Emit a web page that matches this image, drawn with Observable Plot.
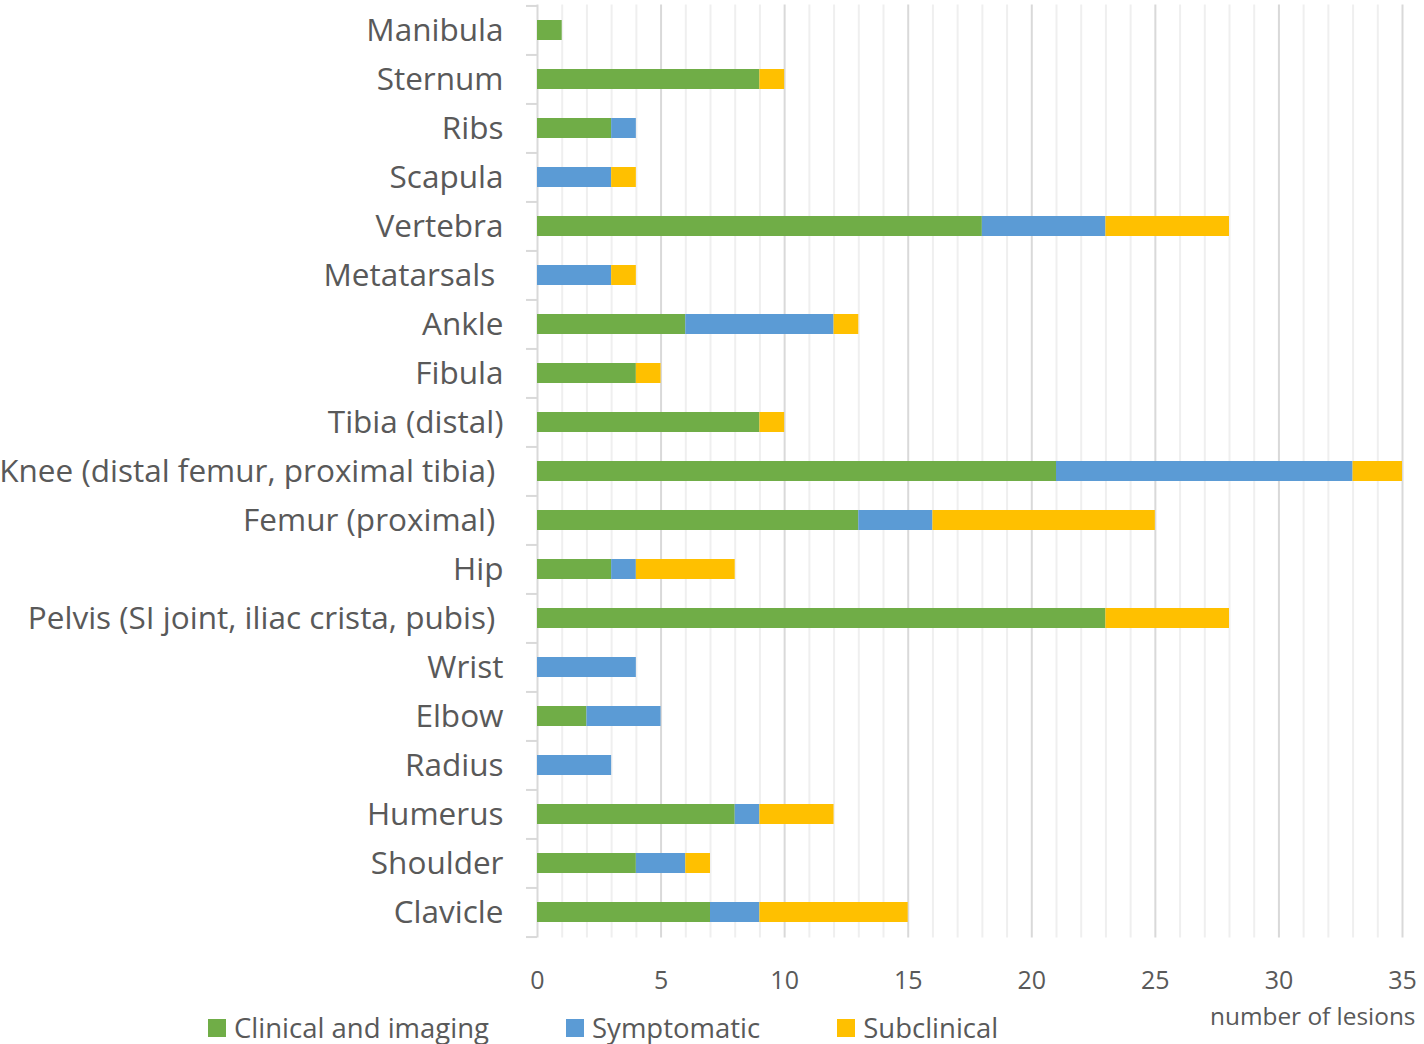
<!DOCTYPE html>
<html><head><meta charset="utf-8">
<script src="https://cdn.jsdelivr.net/npm/d3@7"></script>
<script src="https://cdn.jsdelivr.net/npm/@observablehq/plot@0.6"></script>
<style>
body{margin:0;background:#fff;}
#wrap{position:relative;width:1424px;height:1044px;font-family:"Open Sans", sans-serif;color:#595959;}
#chart svg{display:block;}
#legend{position:absolute;top:1013px;left:208px;display:flex;gap:77px;align-items:center;font-size:27.5px;line-height:30px;height:30px;}
#legend .item{display:flex;align-items:center;gap:8px;}
#legend .sw{width:18px;height:18px;display:inline-block;}
</style></head><body>
<div id="wrap"><div id="chart"></div><div id="legend"></div></div>
<script>
const categories = ["Manibula","Sternum","Ribs","Scapula","Vertebra","Metatarsals\u00a0","Ankle","Fibula","Tibia (distal)","Knee (distal femur, proximal tibia)\u00a0","Femur (proximal)\u00a0","Hip","Pelvis (SI joint, iliac crista, pubis)\u00a0","Wrist","Elbow","Radius","Humerus","Shoulder","Clavicle"];
const clinical    = [1,9,3,0,18,0,6,4,9,21,13,3,23,0,2,0,8,4,7];
const symptomatic = [0,0,1,3,5,3,6,0,0,12,3,1,0,4,3,3,1,2,2];
const subclinical = [0,1,0,1,5,1,1,1,1,2,9,4,5,0,0,0,3,1,6];
const seriesNames = ["Clinical and imaging","Symptomatic","Subclinical"];
const seriesColors = ["#70AD47","#5B9BD5","#FFC000"];
const majorTicks = [0,5,10,15,20,25,30,35];
const minorTicks = [1,2,3,4,6,7,8,9,11,12,13,14,16,17,18,19,21,22,23,24,26,27,28,29,31,32,33,34];
const axisTitle = "number of lesions";

const seriesValues = [clinical, symptomatic, subclinical];
const rows = [];
categories.forEach((c, i) => {
  seriesNames.forEach((s, j) => rows.push({category: c, series: s, value: seriesValues[j][i]}));
});

const W = 1424, H = 1044, mTop = 4.5, mBottom = 106.5;
const step = (H - mTop - mBottom) / categories.length;

const chart = Plot.plot({
  width: W, height: H,
  marginLeft: 537, marginRight: 22, marginTop: mTop, marginBottom: mBottom,
  style: {fontFamily: "'Open Sans', sans-serif", color: "#595959", background: "#fff"},
  x: {domain: [0, 35]},
  y: {domain: categories, paddingInner: 0.6, paddingOuter: 0.3},
  color: {domain: seriesNames, range: seriesColors},
  marks: [
    Plot.ruleX(minorTicks, {stroke: "#efefef", strokeWidth: 2}),
    Plot.ruleX(majorTicks, {stroke: "#d9d9d9", strokeWidth: 2}),
    Plot.ruleY(categories, {y: d => d, x1: 0, x2: 0, insetLeft: -11, dy: -step / 2, stroke: "#d9d9d9", strokeWidth: 2}),
    Plot.ruleY(categories.slice(-1), {y: d => d, x1: 0, x2: 0, insetLeft: -11, dy: step / 2, stroke: "#d9d9d9", strokeWidth: 2}),
    Plot.barX(rows, {y: "category", x: "value", fill: "series"}),
    Plot.axisX({ticks: majorTicks, tickSize: 0, tickPadding: 33, fontSize: 25, fill: "#595959", label: null}),
    Plot.axisY({tickSize: 0, tickPadding: 34, fontSize: 31.5, fill: "#595959", label: null}),
    Plot.text([axisTitle], {text: d => d, frameAnchor: "bottom-right", textAnchor: "end", dx: 13, dy: 87, fontSize: 24.4, fill: "#595959"})
  ]
});
document.getElementById("chart").appendChild(chart);

const legend = document.getElementById("legend");
seriesNames.forEach((s, j) => {
  const it = document.createElement("div");
  it.className = "item";
  it.innerHTML = `<span class="sw" style="background:${seriesColors[j]}"></span><span>${s}</span>`;
  legend.appendChild(it);
});
</script>
</body></html>
